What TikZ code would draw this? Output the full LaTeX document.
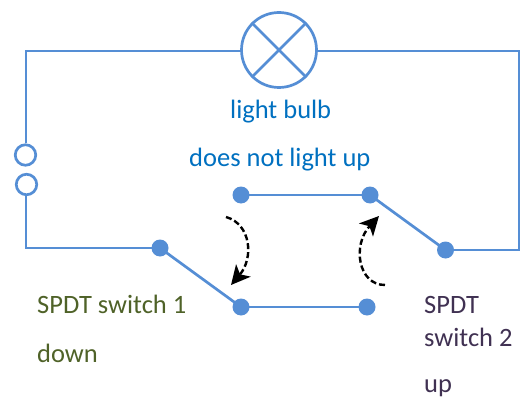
\documentclass[tikz,border=0pt]{standalone}
\usepackage{fontspec}
\setmainfont{Carlito}
\usetikzlibrary{arrows.meta}
\definecolor{wire}{HTML}{558ED5}
\definecolor{tblue}{HTML}{0070C0}
\definecolor{tgreen}{HTML}{4F6228}
\definecolor{tpurple}{HTML}{403152}
\tikzset{
 wireline/.style={draw=wire,line width=2.7pt},
 contact/.style={circle,fill=wire,minimum size=17pt,inner sep=0pt},
 terminal/.style={circle,draw=wire,line width=2.7pt,fill=white,minimum size=20.5pt,inner sep=0pt},
 lampbody/.style={circle,draw=wire,line width=2.7pt,minimum size=75pt,inner sep=0pt},
 motion/.style={draw=black,line width=2.4pt,dash pattern=on 6pt off 3pt,-{Stealth[length=19pt,width=19pt,inset=5pt]}},
 lab/.style={anchor=base west,inner sep=0pt,font=\fontsize{26.5pt}{30pt}\selectfont},
}
\begin{document}
\begin{tikzpicture}[x=1pt,y=-1pt]
\useasboundingbox (0,0) rectangle (521,398);
\node[lampbody] (lamp) at (279,50) {};
\node[terminal] (t1) at (25.5,155) {};
\node[terminal] (t2) at (26.5,184.5) {};
\node[contact] (a) at (160,248) {};
\node[contact] (b) at (241,307) {};
\node[contact] (c) at (241,195) {};
\node[contact] (d) at (370,195) {};
\node[contact] (e) at (367,307) {};
\node[contact] (f) at (445.5,250) {};
\coordinate (tl) at (26,51);
\coordinate (tr) at (519,51);
\coordinate (bl) at (26,248);
\coordinate (br) at (519,250);
\draw[wireline,line join=miter] (lamp.west |- tl) -- (tl) -- (t1.north -| tl);
\draw[wireline,line join=miter] (lamp.east |- tr) -- (tr) -- (br) -- (f.center);
\draw[wireline,line join=miter] (t2.south -| bl) -- (bl) -- (a.center);
\draw[wireline] (a.center) -- (b.center);
\draw[wireline] (b.center) -- (e.center);
\draw[wireline] (c.center) -- (d.center);
\draw[wireline] (d.center) -- (f.center);
\draw[wireline] (lamp.north west) -- (lamp.south east);
\draw[wireline] (lamp.north east) -- (lamp.south west);
\coordinate (m1s) at (226,217);
\coordinate (m1e) at (231,285);
\coordinate (m2s) at (385,285);
\coordinate (m2e) at (379,216);
\draw[motion] (m1s) .. controls (251,224) and (254,258) .. (m1e);
\draw[motion] (m2s) .. controls (358,285) and (352,245) .. (m2e);
\node[lab,text=tblue] (l1) at (230,118.5) {light bulb};
\node[lab,text=tblue] (l2) at (189,166) {does not light up};
\node[lab,text=tgreen] (l3) at (37,313) {SPDT switch 1};
\node[lab,text=tgreen] (l4) at (37,362) {down};
\node[lab,text=tpurple] (l5) at (424,313) {SPDT};
\node[lab,text=tpurple] (l6) at (424,346) {switch 2};
\node[lab,text=tpurple] (l7) at (424,392) {up};
\end{tikzpicture}
\end{document}
